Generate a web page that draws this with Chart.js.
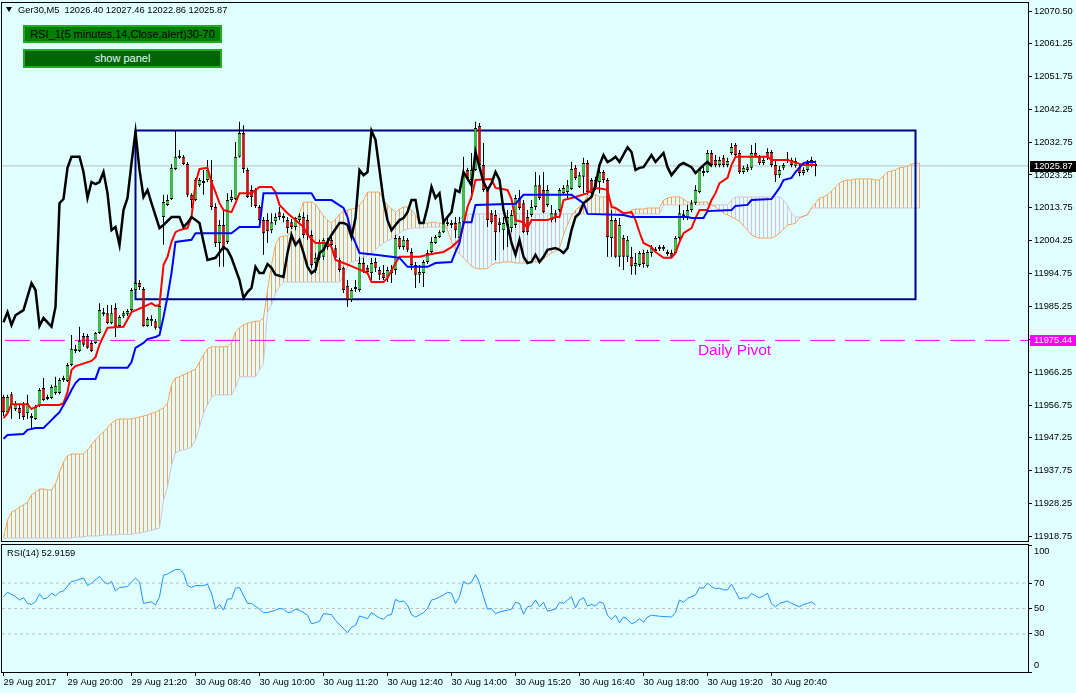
<!DOCTYPE html>
<html lang="en">
<head>
<meta charset="UTF-8">
<title>Ger30,M5</title>
<script src="https://cdn.jsdelivr.net/npm/chart.js"></script>
<style>
    body {
        margin: 0;
        width: 1076px;
        height: 693px;
        overflow: hidden;
        position: relative;
        background: #e0ffff;
        font-family: "Liberation Sans", Arial, sans-serif;
    }
    canvas { position: absolute; left: 0; }
    #main-chart { top: 0; }
    #rsi-chart { top: 543px; }
    .header {
        position: absolute; left: 6px; top: 4px;
        font-size: 9.3px; line-height: 13px; color: #000; white-space: pre;
    }
    .header .tri {
        display: inline-block; width: 0; height: 0;
        border-left: 3px solid transparent; border-right: 3px solid transparent;
        border-top: 5px solid #000; margin-right: 6px; vertical-align: 1px;
    }
    .btn {
        position: absolute; left: 23px; width: 195px;
        border: 2px solid #22a822; font-size: 11px; text-align: center;
    }
    #btn-rsi { top: 25px; height: 14px; line-height: 14px; background: #008000; color: #000; }
    #btn-panel { top: 49px; height: 15px; line-height: 15px; background: #006400; color: #e0ffff; }
</style>
</head>
<body>

<canvas id="main-chart" width="1076" height="543"></canvas>
<canvas id="rsi-chart" width="1076" height="150"></canvas>

<div class="header"><span class="tri"></span>Ger30,M5  12026.40 12027.46 12022.86 12025.87</div>
<div class="btn" id="btn-rsi">RSI_1(5 minutes,14,Close,alert)30-70</div>
<div class="btn" id="btn-panel">show panel</div>

<script>
    // ---- data (bar index 0 = 29 Aug 18:40, M5) ----
    const priceTicks = [12070.50, 12061.25, 12051.75, 12042.25, 12032.75, 12023.25, 12013.75, 12004.25,
        11994.75, 11985.25, 11975.75, 11966.25, 11956.75, 11947.25, 11937.75, 11928.25, 11918.75];
    const timeTickBars = [0, 16, 32, 48, 64, 80, 96, 112, 128, 144, 160, 176, 192];
    const timeTickLabels = ['29 Aug 2017', '29 Aug 20:00', '29 Aug 21:20', '30 Aug 08:40', '30 Aug 10:00',
        '30 Aug 11:20', '30 Aug 12:40', '30 Aug 14:00', '30 Aug 15:20', '30 Aug 16:40', '30 Aug 18:00',
        '30 Aug 19:20', '30 Aug 20:40'];

    const candleOpen = [
        11959.1,11954.7,11959.9,11955.6,11955.9,11957.0,11954.4,11953.0,11952.7,11956.5,
        11961.7,11958.5,11958.8,11960.2,11960.2,11964.0,11963.7,11968.3,11972.4,11972.4,
        11976.7,11976.7,11974.7,11974.7,11977.6,11983.6,11983.3,11980.4,11984.8,11979.6,
        11982.4,11983.0,11984.2,11990.0,11992.0,11990.3,11979.6,11981.0,11981.0,11979.1,
        12011.1,12014.6,12016.3,12025.0,12028.7,12028.5,12026.4,12017.5,12016.0,12020.3,
        12021.5,12021.8,12021.8,12014.0,12003.6,12008.8,12003.9,12016.0,12016.3,12028.5,
        12035.4,12024.7,12018.9,12018.9,12014.0,12010.2,12010.2,12007.3,12009.9,12012.5,
        12010.8,12010.2,12009.6,12008.2,12010.2,12011.1,12010.2,12005.9,11997.8,11999.3,
        11999.6,12003.9,12004.5,12002.1,11998.7,11996.4,11991.2,11987.1,11990.3,11990.0,
        11997.8,11996.4,11994.9,11998.1,11995.8,11994.9,11993.8,11995.8,11995.8,12005.0,
        12002.4,12004.5,12001.0,11997.2,11994.4,11994.9,11998.1,12001.0,12003.6,12005.3,
        12006.7,12009.1,12009.4,12009.4,12005.0,12009.6,12024.7,12021.8,12024.7,12037.4,
        12026.1,12018.9,12012.2,12011.7,12009.6,12007.3,12008.8,12007.9,12008.8,12016.6,
        12015.1,12011.1,12011.7,12014.0,12020.3,12018.9,12014.6,12010.2,12012.2,12013.1,
        12018.0,12018.3,12019.2,12025.3,12019.8,12022.7,12026.7,12021.8,12021.8,12021.2,
        12024.1,12021.8,12005.0,12010.2,11999.6,12005.0,11999.6,11999.6,11996.9,11997.2,
        12000.7,11996.9,12000.7,12001.3,12002.4,12001.8,12001.0,12000.7,12000.7,12005.0,
        12011.4,12010.8,12013.1,12015.1,12018.3,12023.8,12024.1,12029.6,12027.6,12026.1,
        12028.2,12026.1,12029.6,12031.9,12029.6,12024.1,12024.7,12025.3,12029.6,12028.5,
        12026.7,12029.9,12029.9,12026.1,12023.2,12025.3,12027.3,12027.6,12025.9,12025.5,
        12023.8,12024.7,12026.1,12026.40];
    const candleHigh = [
        11959.7,11959.7,11960.5,11957.9,11956.8,11957.6,11959.7,11954.4,11956.8,11961.7,
        11964.6,11959.7,11962.6,11964.9,11964.6,11965.2,11968.9,11977.0,11974.2,11979.4,
        11977.6,11977.3,11975.3,11977.9,11986.2,11984.8,11985.7,11985.7,11986.2,11982.7,
        11983.9,11984.5,11990.6,11992.9,11992.9,11990.9,11982.2,11982.7,11981.6,11985.7,
        12017.5,12017.5,12026.4,12036.2,12030.5,12029.0,12027.0,12018.0,12022.4,12022.4,
        12024.7,12027.6,12027.6,12015.1,12010.2,12013.1,12018.0,12018.9,12032.8,12038.6,
        12037.6,12025.3,12020.3,12019.5,12014.6,12011.1,12012.2,12012.2,12012.2,12014.0,
        12012.2,12011.1,12010.5,12011.1,12012.2,12012.5,12011.7,12007.3,12000.7,12004.5,
        12005.0,12005.0,12005.6,12003.0,11999.3,11996.7,11992.9,11990.6,11992.9,11999.6,
        11999.3,11997.2,11999.3,11999.3,11996.7,11997.2,11996.7,11997.2,12005.9,12005.6,
        12005.6,12005.0,12002.1,11998.1,11997.2,11998.7,12001.6,12005.3,12005.9,12007.3,
        12011.1,12010.8,12010.2,12011.1,12011.1,12028.5,12025.3,12029.6,12038.6,12038.3,
        12032.5,12019.8,12013.1,12013.1,12010.8,12011.1,12013.1,12013.1,12017.5,12018.9,
        12016.0,12013.1,12016.0,12024.1,12023.2,12024.1,12020.3,12014.6,12013.1,12019.5,
        12020.3,12021.8,12027.0,12026.1,12024.1,12028.2,12027.6,12022.4,12022.7,12026.1,
        12024.7,12022.4,12013.1,12010.8,12010.8,12005.9,12005.6,12002.4,12000.7,12001.3,
        12001.6,12001.6,12003.0,12002.4,12003.0,12003.0,12001.6,12001.6,12005.6,12014.6,
        12013.1,12014.6,12016.0,12020.3,12025.3,12025.9,12030.5,12030.5,12029.0,12028.5,
        12029.0,12028.2,12032.5,12032.5,12030.5,12025.9,12026.4,12031.9,12032.5,12029.0,
        12028.2,12031.0,12030.5,12027.6,12025.9,12026.7,12029.9,12028.2,12028.2,12026.7,
        12025.5,12027.6,12028.5,12027.46];
    const candleLow = [
        11953.6,11954.1,11952.7,11955.0,11952.7,11952.4,11952.7,11949.6,11952.4,11956.2,
        11957.9,11958.2,11958.5,11959.7,11959.9,11963.4,11963.4,11968.0,11971.8,11972.1,
        11973.6,11973.0,11972.1,11974.4,11977.3,11982.4,11980.1,11980.1,11976.4,11979.4,
        11981.9,11982.4,11983.9,11989.4,11990.0,11979.4,11979.4,11979.6,11978.5,11978.8,
        12003.1,12014.3,12016.0,12024.7,12027.9,12026.1,12016.9,12013.7,12015.7,12019.8,
        12017.5,12021.2,12013.1,12002.4,11996.7,11996.7,12003.3,12015.4,12016.0,12028.2,
        12023.8,12016.6,12014.0,12013.7,12009.6,12000.2,12003.6,12006.4,12008.8,12010.2,
        12009.6,12006.4,12007.6,12007.3,12009.6,12005.0,12004.5,11996.4,11994.9,11998.7,
        11998.7,12001.6,12002.1,11998.7,11995.2,11989.1,11985.1,11986.5,11989.4,11989.4,
        11994.9,11994.4,11992.9,11995.2,11992.9,11992.9,11992.3,11992.0,11994.4,12001.8,
        12001.6,12001.0,11995.8,11990.6,11992.0,11990.9,11997.5,12000.7,12003.3,12005.0,
        12006.4,12008.5,12007.9,12005.0,12004.8,12009.4,12021.8,12016.0,12024.4,12025.3,
        12018.3,12008.2,12009.1,11998.7,12006.7,12001.6,12002.4,12006.7,12007.9,12013.1,
        12006.5,12005.9,12011.1,12013.1,12016.0,12012.2,12014.0,12009.6,12009.6,12012.5,
        12017.5,12016.0,12018.9,12021.8,12019.5,12018.0,12017.5,12017.2,12018.9,12018.0,
        12020.9,11999.6,11999.6,11999.3,11996.7,11995.8,11998.1,11994.4,11994.4,11996.7,
        11996.4,11996.4,11999.6,12000.7,12001.3,12001.3,11999.9,11999.3,12000.4,12004.5,
        12010.2,12010.2,12012.5,12014.6,12018.0,12022.9,12023.8,12025.5,12025.5,12025.5,
        12025.5,12025.5,12029.0,12028.5,12023.5,12023.5,12024.1,12024.7,12028.2,12026.1,
        12026.1,12027.6,12025.5,12021.2,12022.4,12024.7,12026.7,12025.5,12025.3,12022.9,
        12023.2,12024.1,12025.5,12022.86];
    const candleClose = [
        11954.7,11959.1,11956.8,11957.0,11954.4,11953.3,11957.3,11953.6,11956.2,11961.1,
        11958.2,11959.1,11962.0,11962.3,11964.0,11964.6,11968.3,11973.0,11973.0,11975.3,
        11974.2,11973.3,11972.4,11977.6,11984.2,11983.0,11980.4,11983.3,11979.4,11982.2,
        11983.3,11983.9,11990.0,11992.0,11990.9,11979.6,11981.6,11981.6,11979.1,11985.4,
        12015.4,12016.0,12025.3,12028.5,12028.2,12026.4,12017.5,12016.0,12021.8,12021.8,
        12020.9,12024.7,12014.0,12003.6,12008.8,12002.4,12016.0,12016.9,12028.5,12035.4,
        12025.0,12016.9,12016.9,12014.3,12010.2,12006.4,12007.0,12009.6,12011.1,12011.1,
        12011.4,12007.9,12008.2,12010.8,12011.4,12005.9,12005.9,11997.2,11999.3,12003.6,
        12004.5,12002.4,12003.0,11999.3,11995.8,11990.0,11987.1,11990.0,11990.9,11997.8,
        11995.2,11995.2,11997.8,11996.4,11994.4,11993.5,11995.8,11994.9,12005.0,12002.4,
        12004.5,12001.6,11997.2,11994.4,11995.2,11998.1,12000.7,12003.9,12005.3,12006.7,
        12009.6,12009.6,12008.8,12007.3,12009.6,12023.8,12022.4,12024.7,12036.8,12026.1,
        12018.9,12010.2,12009.6,12006.7,12008.8,12009.4,12011.1,12011.7,12016.6,12013.7,
        12006.7,12006.7,12014.0,12020.3,12016.6,12012.5,12018.9,12012.2,12010.8,12018.9,
        12019.5,12020.3,12025.0,12022.4,12023.2,12026.7,12018.3,12018.0,12019.8,12024.1,
        12021.8,12005.3,12010.2,11999.6,12008.8,11999.6,12004.5,11996.9,11997.8,12000.7,
        11997.5,12001.0,12002.1,12001.8,12001.8,12002.4,12000.4,11999.6,12005.0,12012.2,
        12011.9,12013.1,12015.1,12018.9,12024.7,12024.4,12029.6,12026.1,12026.1,12027.6,
        12026.1,12027.3,12031.3,12029.0,12024.1,12025.3,12025.5,12029.6,12028.5,12026.7,
        12027.6,12028.2,12026.1,12023.2,12024.7,12026.1,12027.9,12026.1,12027.3,12023.8,
        12024.7,12026.7,12027.6,12025.87];

    // Ichimoku lines as [bar, price] vertices
    const tenkanLine = [[0,11953.0],[1,11954.4],[2,11957.0],[6,11957.0],[7,11955.6],[8,11956.2],[9,11956.8],
        [14,11956.8],[15,11957.3],[16,11960.5],[17,11966.9],[18,11968.0],[22,11969.5],[23,11970.6],[24,11974.2],
        [26,11979.1],[30,11979.4],[32,11983.6],[35,11985.1],[37,11986.2],[38,11985.4],[39,11985.7],[40,11997.2],
        [41,11999.6],[42,12003.9],[43,12006.7],[44,12007.3],[46,12007.9],[47,12011.1],[48,12020.9],[49,12025.0],
        [51,12025.3],[52,12021.2],[53,12018.3],[54,12015.1],[55,12013.1],[57,12012.5],[58,12015.1],[59,12018.0],
        [62,12018.0],[64,12019.8],[67,12019.8],[68,12018.3],[69,12014.6],[71,12012.2],[73,12010.2],[75,12008.2],
        [76,12005.9],[78,12003.6],[81,12003.6],[82,12002.4],[83,11998.7],[85,11997.8],[87,11996.9],[91,11994.9],
        [92,11992.3],[95,11992.3],[96,11993.5],[98,11997.8],[99,11999.6],[104,11999.6],[107,12000.4],[110,12001.0],
        [112,12002.4],[114,12004.5],[115,12008.8],[116,12014.0],[117,12016.9],[118,12021.8],[122,12022.1],
        [123,12019.5],[126,12018.9],[127,12016.3],[128,12010.2],[130,12009.6],[131,12007.9],[132,12010.2],
        [136,12010.2],[138,12011.1],[139,12011.1],[140,12016.0],[143,12016.9],[146,12018.0],[147,12018.9],
        [148,12019.5],[150,12019.2],[151,12018.9],[152,12014.0],[153,12013.7],[155,12012.2],[157,12012.5],
        [158,12010.2],[159,12006.7],[160,12003.6],[162,12002.4],[163,12001.0],[165,11999.3],[167,11999.3],
        [168,12000.7],[169,12003.9],[170,12006.4],[172,12007.9],[173,12010.8],[174,12013.1],[176,12013.1],
        [177,12016.0],[178,12018.0],[179,12020.9],[181,12022.4],[182,12026.1],[183,12028.5],[191,12028.5],
        [192,12027.6],[196,12027.6],[200,12026.1],[203,12026.1]];
    const kijunLine = [[0,11947.0],[1,11948.1],[5,11948.4],[6,11949.6],[8,11950.1],[10,11950.1],[12,11952.4],
        [13,11953.6],[14,11954.7],[16,11958.8],[17,11961.1],[18,11963.1],[19,11964.3],[23,11964.3],[24,11967.5],
        [31,11967.5],[32,11969.2],[33,11973.3],[35,11974.7],[36,11975.8],[38,11976.4],[39,11977.0],[40,11982.2],
        [41,11988.0],[42,11994.9],[43,12003.9],[47,12004.5],[48,12006.4],[57,12006.4],[59,12008.2],[64,12008.2],
        [65,12018.0],[77,12018.0],[78,12016.0],[82,12016.0],[85,12013.7],[86,12011.1],[87,12006.4],[89,12000.7],
        [93,12000.2],[97,11999.6],[99,11999.3],[101,11996.7],[106,11996.7],[108,11997.8],[112,11998.1],
        [113,12001.0],[114,12003.6],[115,12009.6],[117,12009.6],[118,12014.6],[128,12014.9],[130,12017.5],
        [142,12017.5],[145,12015.1],[146,12012.0],[155,12011.7],[157,12011.1],[171,12011.1],[172,12010.8],
        [175,12010.8],[176,12012.8],[182,12013.1],[183,12014.3],[186,12014.6],[187,12016.0],[192,12016.3],
        [194,12019.5],[195,12021.8],[197,12022.4],[198,12024.1],[200,12026.7],[201,12027.0],[203,12027.0]];
    const chikouLine = [[0,11980.7],[1,11983.6],[2,11979.9],[3,11982.7],[5,11984.2],[7,11992.0],[8,11990.0],
        [9,11979.6],[10,11981.9],[12,11979.4],[13,11985.1],[14,12015.1],[15,12016.3],[16,12025.3],[17,12028.5],
        [19,12028.5],[20,12024.1],[21,12016.6],[22,12021.2],[23,12020.6],[24,12021.2],[25,12024.1],[26,12018.0],
        [27,12007.3],[28,12008.2],[29,12003.0],[30,12013.1],[31,12016.6],[32,12026.7],[33,12035.7],[34,12024.7],
        [35,12016.9],[36,12018.9],[37,12015.1],[39,12007.9],[40,12008.8],[42,12011.1],[44,12011.1],[45,12008.2],
        [46,12009.4],[47,12011.1],[49,12009.4],[50,12003.9],[51,11998.7],[53,11999.3],[55,12002.4],[56,12001.6],
        [57,11999.3],[59,11992.9],[60,11987.7],[61,11989.4],[62,11990.6],[63,11996.7],[64,11994.9],[65,11994.9],
        [66,11997.5],[67,11996.4],[68,11994.4],[70,11993.8],[71,12000.7],[72,12005.9],[73,12003.0],[74,12004.5],
        [75,12000.7],[76,11996.7],[77,11994.9],[78,11995.8],[79,12000.7],[80,12001.6],[81,12003.9],[82,12005.9],
        [84,12009.4],[85,12009.4],[86,12008.8],[87,12005.3],[88,12010.8],[89,12024.7],[90,12023.2],[91,12024.1],
        [92,12036.0],[93,12033.4],[94,12024.7],[95,12016.0],[96,12010.2],[97,12007.3],[98,12008.8],[99,12010.2],
        [100,12010.8],[101,12012.5],[102,12016.0],[103,12016.0],[104,12009.4],[105,12009.4],[106,12014.0],
        [107,12019.8],[108,12016.6],[109,12018.0],[110,12009.6],[111,12011.1],[112,12012.5],[113,12018.9],
        [114,12018.3],[115,12024.1],[117,12020.3],[118,12029.9],[119,12025.5],[120,12021.2],[121,12018.9],
        [122,12020.9],[123,12024.1],[124,12021.8],[125,12013.1],[126,12008.8],[127,12003.6],[128,12000.2],
        [129,12004.5],[130,11999.6],[131,11997.8],[132,11998.1],[133,12000.2],[134,11998.1],[135,11999.6],
        [136,12001.6],[138,12002.1],[139,12001.6],[140,12000.7],[141,12002.1],[142,12007.3],[143,12011.1],
        [144,12012.2],[145,12015.1],[147,12016.9],[148,12020.3],[149,12026.1],[150,12029.0],[151,12027.0],
        [152,12027.6],[153,12028.5],[154,12027.0],[156,12031.3],[157,12029.9],[158,12024.7],[159,12025.3],
        [160,12025.5],[162,12029.0],[163,12027.0],[165,12029.6],[166,12025.5],[167,12023.2],[169,12026.1],
        [170,12026.7],[172,12025.5],[173,12023.8],[175,12026.1],[176,12027.0],[177,12025.9]];

    // Senkou spans, one value per bar 0..229 (cloud runs 26 bars past the last candle)
    const spanA = [
        11918.3,11923.5,11925.8,11926.4,11927.3,11927.9,11928.7,11930.8,11931.6,11932.5,
        11932.5,11932.2,11932.2,11933.9,11937.4,11940.3,11942.1,11942.6,11942.6,11942.6,
        11942.6,11943.8,11945.3,11946.7,11947.9,11949.0,11950.1,11951.5,11952.4,11952.7,
        11952.7,11952.7,11952.7,11953.0,11953.3,11953.6,11953.9,11954.4,11954.7,11955.3,
        11955.9,11957.3,11962.6,11964.6,11964.9,11965.5,11966.0,11966.6,11967.2,11969.2,
        11971.3,11973.0,11973.6,11973.6,11973.6,11973.6,11973.6,11974.7,11977.9,11979.1,
        11979.9,11980.4,11980.7,11981.0,11981.0,11981.9,11990.0,11997.2,12003.1,12005.3,
        12005.6,12005.6,12007.3,12009.6,12012.2,12015.4,12015.4,12015.4,12014.8,12013.1,
        12011.4,12010.2,12009.3,12010.5,12011.9,12012.8,12013.1,12013.4,12013.7,12014.6,
        12016.0,12018.3,12018.3,12018.3,12018.3,12016.0,12014.6,12013.4,12012.5,12013.4,
        12014.0,12014.0,12013.1,12011.7,12009.3,12009.3,12009.3,12009.6,12009.6,12009.3,
        12009.3,12007.3,12003.9,12001.6,12000.4,11999.3,11998.1,11996.9,11996.3,11996.1,
        11996.1,11996.3,11997.2,11997.8,11997.8,11998.1,11998.1,11998.1,11997.8,11997.8,
        11997.8,11997.8,11998.1,11998.1,11998.1,11998.9,11999.9,12000.7,12001.3,12002.1,
        12005.9,12008.8,12011.4,12013.1,12014.0,12015.1,12017.2,12017.5,12017.5,12016.9,
        12016.9,12016.9,12015.1,12013.7,12012.5,12011.9,12012.2,12013.1,12013.4,12013.4,
        12013.4,12013.7,12013.7,12013.7,12013.7,12016.0,12016.6,12016.9,12016.9,12016.9,
        12016.3,12015.4,12015.4,12015.4,12015.4,12015.4,12015.4,12014.6,12014.0,12013.1,
        12012.2,12011.7,12011.1,12010.5,12009.9,12008.5,12007.3,12005.9,12005.3,12005.0,
        12005.0,12005.0,12005.0,12005.6,12006.4,12007.6,12008.8,12009.0,12009.3,12010.8,
        12011.4,12011.7,12013.7,12015.1,12016.6,12016.9,12017.5,12018.6,12019.8,12020.9,
        12021.5,12021.8,12021.8,12022.1,12022.1,12022.1,12022.1,12022.1,12021.8,12021.8,
        12023.0,12024.1,12024.4,12024.7,12025.3,12025.5,12025.8,12026.4,12026.7,12026.7];
    const spanB = [
        11918.3,11918.3,11918.3,11918.3,11918.3,11918.3,11918.3,11918.3,11918.3,11918.3,
        11918.3,11918.3,11918.3,11918.3,11918.3,11918.3,11918.3,11918.3,11918.6,11918.6,
        11918.6,11918.9,11918.9,11918.9,11918.9,11919.2,11919.2,11919.2,11919.2,11919.4,
        11919.4,11919.4,11919.4,11919.7,11919.7,11920.0,11920.3,11920.6,11920.9,11921.2,
        11929.3,11933.0,11939.4,11942.9,11943.5,11943.8,11944.1,11944.6,11946.7,11950.4,
        11954.4,11956.8,11959.1,11959.7,11959.7,11959.7,11959.7,11959.7,11961.7,11964.9,
        11964.9,11964.9,11964.9,11964.9,11966.9,11968.9,11983.6,11985.7,11989.1,11990.9,
        11992.3,11992.3,11992.3,11992.3,11992.3,11992.3,11992.3,11992.3,11992.3,11992.3,
        11992.3,11992.3,11992.3,11992.3,11992.3,11993.8,11996.7,11998.1,11998.4,11998.7,
        11999.3,11999.9,12000.7,12001.6,12002.7,12003.6,12004.2,12004.8,12005.6,12006.4,
        12007.3,12007.6,12007.9,12007.9,12007.9,12007.9,12008.2,12008.2,12008.2,12008.2,
        12008.2,12008.5,12009.1,12009.6,12010.5,12011.1,12011.7,12012.0,12012.0,12012.0,
        12012.0,12012.0,12012.0,12012.0,12012.0,12012.0,12012.0,12012.0,12012.0,12012.0,
        12012.0,12012.0,12012.0,12012.0,12012.0,12012.0,12012.0,12012.0,12012.0,12012.0,
        12012.0,12012.0,12012.0,12012.0,12012.0,12012.0,12012.0,12012.0,12012.0,12012.0,
        12012.0,12012.0,12012.0,12012.0,12012.0,12012.0,12012.0,12012.0,12012.0,12012.0,
        12012.0,12012.0,12012.0,12012.0,12012.0,12014.6,12014.6,12014.6,12014.6,12014.6,
        12014.6,12014.6,12014.6,12014.6,12014.6,12014.6,12014.6,12014.6,12014.6,12014.6,
        12014.6,12014.6,12016.0,12016.9,12016.9,12016.9,12016.9,12016.9,12016.9,12016.9,
        12016.9,12016.9,12016.9,12016.9,12016.9,12016.0,12014.6,12012.2,12011.1,12011.1,
        12011.1,12012.0,12013.7,12013.7,12013.7,12013.7,12013.7,12013.7,12013.7,12013.7,
        12013.7,12013.7,12013.7,12013.7,12013.7,12013.7,12013.7,12013.7,12013.7,12013.7,
        12013.7,12013.7,12013.7,12013.7,12013.7,12013.7,12013.7,12013.7,12013.7,12013.7];

    const rsiLine = [[0,59.3],[1,62.8],[3,59.3],[4,56.7],[5,58.5],[6,54],[7,53.2],[8,55.3],[9,61.5],[10,57.5],
        [11,58.5],[12,62],[13,60],[14,62.8],[15,63.9],[17,71.3],[18,71.9],[20,74],[21,68.1],[22,70],[24,75.3],
        [25,71.3],[26,69.2],[27,71.3],[28,63.9],[29,66.5],[31,67.3],[33,74],[34,70.8],[35,54],[37,55.3],[38,52.7],
        [39,59.3],[40,76.1],[41,77.2],[43,80.7],[44,80.7],[45,78],[46,68.1],[47,66.5],[48,68.1],[50,67.9],[51,69.2],
        [52,62],[53,49.5],[54,53.2],[55,48.7],[56,57.5],[57,57.5],[58,66],[59,66.5],[61,54],[62,54],[64,49.5],
        [65,46.8],[66,46.8],[68,48.7],[69,50],[70,49.5],[71,46.8],[72,47.3],[73,49.5],[74,48.7],[76,44.7],[77,38],
        [78,38.8],[79,39.9],[80,46],[82,45.2],[83,40.7],[86,30.8],[87,35.3],[88,36.7],[89,44.1],[91,42],[92,46.8],
        [94,42.5],[95,41.5],[96,44.7],[97,45.2],[98,57.2],[99,55.3],[100,55.9],[101,52.7],[102,45.2],[103,43.3],
        [105,46.8],[106,50],[107,56.7],[108,57.5],[110,60.7],[111,62.8],[112,62],[113,54],[114,59.3],[115,71.3],
        [116,69.2],[117,70.8],[118,76.7],[119,70],[120,59.3],[121,49.5],[122,50],[123,46],[124,47.3],[126,48.7],
        [127,49.5],[128,54.8],[129,54],[130,45.5],[131,51.3],[132,52.1],[133,56.7],[134,51.6],[135,54.8],
        [136,47.9],[138,49.5],[139,54.8],[140,54],[141,56.7],[142,59.3],[143,50.5],[144,56.7],[145,58.5],
        [146,52.1],[147,53.2],[148,51.9],[149,55.3],[150,54],[151,44.7],[152,41.5],[153,44.7],[154,38.8],
        [155,43.3],[156,41.5],[157,38],[158,39.3],[159,42],[160,39.3],[161,43.3],[162,44.7],[164,43.9],[167,43.3],
        [168,46.8],[169,56.7],[170,54.8],[171,58],[173,60.7],[174,66.5],[175,66],[176,70],[177,67.3],[178,65.5],
        [179,66],[180,64.7],[181,64.7],[182,69.2],[183,63.3],[184,57.5],[185,58.5],[186,58],[187,62],[188,60],
        [189,58.5],[190,60],[191,62],[192,54],[193,51.3],[194,54],[196,55.9],[197,54],[199,51.3],[200,53.2],
        [201,54],[202,55.3],[203,52.9]];
    const rsiLevels = [30, 50, 70];
    const rsiTicks = [0, 30, 50, 70, 100];
    const rsiTitle = 'RSI(14) 52.9159';

    const lastPrice = 12025.87;
    const pivotPrice = 11975.44;
    const pivotLabel = 'Daily Pivot';
    const pivotLabelBar = 173.6;
    const boxBars = [33, 228];
    const boxPrices = [12036.1, 11987.3];

    // ---- view range: 4 px per bar, same x range on both panels ----
    const xMin = -0.375, xMax = 256.125;
    const yMin = 11917.46, yMax = 12072.95;

    const BULL = '#32cd32', BEAR = '#f00000';
    const SPAN_A = '#f4a460', SPAN_B = '#d8bfd8';
    const FONT = '"Liberation Sans", Arial, sans-serif';

    Chart.defaults.font.family = FONT;
    Chart.defaults.font.size = 9.3;
    Chart.defaults.color = '#000';

    const xy = pts => pts.map(p => ({x: p[0], y: p[1]}));
    const bars = candleOpen.map((_, i) => i);

    const framePlugin = {
        id: 'frame',
        afterDraw(chart) {
            const {ctx, chartArea: a} = chart;
            ctx.save();
            ctx.strokeStyle = '#000';
            ctx.lineWidth = 1;
            ctx.strokeRect(a.left - 0.5, a.top - 0.5, a.right - a.left + 1, a.bottom - a.top + 1);
            ctx.restore();
        }
    };

    const markerPlugin = {
        id: 'markers',
        afterDraw(chart) {
            const {ctx, chartArea: a} = chart;
            const x = chart.scales.x, y = chart.scales.y;
            ctx.save();
            ctx.font = '9.3px ' + FONT;
            ctx.textBaseline = 'middle';
            [[lastPrice, '#000000'], [pivotPrice, '#ff00ff']].forEach(([v, bg]) => {
                const py = Math.round(y.getPixelForValue(v));
                ctx.fillStyle = bg;
                ctx.fillRect(a.right + 2, py - 5, chart.width - a.right - 2, 11);
                ctx.fillStyle = '#ffffff';
                ctx.fillText(v.toFixed(2), a.right + 6, py + 0.5);
            });
            ctx.fillStyle = '#ff00ff';
            ctx.font = '15.5px ' + FONT;
            ctx.textBaseline = 'alphabetic';
            ctx.fillText(pivotLabel, x.getPixelForValue(pivotLabelBar), y.getPixelForValue(pivotPrice) + 15);
            ctx.restore();
        }
    };

    const rsiTextPlugin = {
        id: 'rsiText',
        afterDraw(chart) {
            const {ctx, chartArea: a} = chart;
            const y = chart.scales.y;
            ctx.save();
            ctx.font = '9.3px ' + FONT;
            ctx.fillStyle = '#000';
            ctx.textBaseline = 'middle';
            rsiTicks.forEach(v => {
                const py = Math.min(Math.max(y.getPixelForValue(v), a.top + 6), a.bottom - 7);
                ctx.fillText(String(v), a.right + 6, py);
            });
            ctx.fillText(rsiTitle, a.left + 5, a.top + 8.5);
            ctx.restore();
        }
    };

    const lineSet = (label, data, color, width, order, extra) => Object.assign({
        type: 'line', label: label, data: data, borderColor: color, borderWidth: width,
        pointRadius: 0, pointHoverRadius: 0, tension: 0, fill: false, order: order
    }, extra || {});

    new Chart(document.getElementById('main-chart'), {
        type: 'bar',
        data: {
            datasets: [
                lineSet('Chikou', xy(chikouLine), '#000000', 2.5, 1),
                lineSet('Kijun', xy(kijunLine), '#0000ff', 2, 2),
                lineSet('Tenkan', xy(tenkanLine), '#ff0000', 2, 3),
                {
                    label: 'Body',
                    data: bars.map(i => ({x: i, y: [candleOpen[i], candleClose[i]]})),
                    backgroundColor: bars.map(i => candleClose[i] >= candleOpen[i] ? BULL : BEAR),
                    borderColor: '#000', borderWidth: {top: 1, bottom: 1, left: 0.5, right: 0.5},
                    borderSkipped: false,
                    barThickness: 3, maxBarThickness: 3, grouped: false, inflateAmount: 0, order: 4
                },
                {
                    label: 'Wick',
                    data: bars.map(i => ({x: i, y: [candleLow[i], candleHigh[i]]})),
                    backgroundColor: '#000', borderWidth: 0,
                    barThickness: 1, maxBarThickness: 1, grouped: false, inflateAmount: 0, order: 5
                },
                lineSet('Box', [
                    {x: boxBars[0], y: boxPrices[0]}, {x: boxBars[1], y: boxPrices[0]},
                    {x: boxBars[1], y: boxPrices[1]}, {x: boxBars[0], y: boxPrices[1]},
                    {x: boxBars[0], y: boxPrices[0]}
                ], '#000080', 2, 6),
                lineSet('Daily Pivot', [{x: xMin, y: pivotPrice}, {x: xMax, y: pivotPrice}], '#ff00ff', 1, 7,
                    {borderDash: [25, 10], borderDashOffset: 32}),
                lineSet('Bid', [{x: xMin, y: lastPrice}, {x: xMax, y: lastPrice}], '#c0c0c0', 1, 8),
                lineSet('Senkou A', spanA.map((v, i) => ({x: i, y: v})), SPAN_A, 1, 9),
                lineSet('Senkou B', spanB.map((v, i) => ({x: i, y: v})), SPAN_B, 1, 10),
                {
                    label: 'Cloud',
                    data: spanA.map((v, i) => ({x: i, y: [Math.min(v, spanB[i]), Math.max(v, spanB[i])]})),
                    backgroundColor: spanA.map((v, i) => v >= spanB[i] ? SPAN_A : SPAN_B),
                    borderWidth: 0, barThickness: 1, maxBarThickness: 1, grouped: false, inflateAmount: 0, order: 11
                }
            ]
        },
        options: {
            responsive: false,
            animation: false,
            devicePixelRatio: 1,
            events: [],
            layout: {padding: {left: 2, top: 3, right: 0, bottom: 2}},
            plugins: {legend: {display: false}, tooltip: {enabled: false}},
            scales: {
                x: {type: 'linear', min: xMin, max: xMax, bounds: 'data', offset: false, display: false},
                y: {
                    type: 'linear', position: 'right', min: yMin, max: yMax, bounds: 'data', beginAtZero: false,
                    grid: {drawOnChartArea: false, drawTicks: true, tickLength: 4, color: '#000', tickColor: '#000'},
                    border: {display: true, color: '#000'},
                    ticks: {padding: 2, autoSkip: false, color: '#000', callback: v => Number(v).toFixed(2)},
                    afterBuildTicks: s => { s.ticks = priceTicks.map(v => ({value: v})); },
                    afterFit: s => { s.width = 48; s.paddingTop = 0; s.paddingBottom = 0; }
                }
            }
        },
        plugins: [framePlugin, markerPlugin]
    });

    new Chart(document.getElementById('rsi-chart'), {
        type: 'line',
        data: {
            datasets: [lineSet(rsiTitle, xy(rsiLine), '#1e90ff', 1, 1)].concat(
                rsiLevels.map(v => lineSet('level ' + v, [{x: xMin, y: v}, {x: xMax, y: v}], '#c0c0c0', 1, 2,
                    {borderDash: [3, 3]})))
        },
        options: {
            responsive: false,
            animation: false,
            devicePixelRatio: 1,
            events: [],
            layout: {padding: {left: 2, top: 2, right: 0, bottom: 0}},
            plugins: {legend: {display: false}, tooltip: {enabled: false}},
            scales: {
                x: {
                    type: 'linear', min: xMin, max: xMax, bounds: 'data', offset: false,
                    grid: {drawOnChartArea: false, drawTicks: true, tickLength: 4, color: '#000', tickColor: '#000'},
                    border: {display: false},
                    ticks: {
                        autoSkip: false, maxRotation: 0, minRotation: 0, align: 'start', padding: 1, color: '#000',
                        callback: v => { const k = timeTickBars.indexOf(v); return k < 0 ? '' : timeTickLabels[k]; }
                    },
                    afterBuildTicks: s => { s.ticks = timeTickBars.map(v => ({value: v})); },
                    afterFit: s => { s.height = 21; s.paddingLeft = 0; s.paddingRight = 0; }
                },
                y: {
                    type: 'linear', position: 'right', min: 0, max: 100, bounds: 'data',
                    grid: {drawOnChartArea: false, drawTicks: true, tickLength: 4, color: '#000', tickColor: '#000'},
                    border: {display: true, color: '#000'},
                    ticks: {display: false},
                    afterBuildTicks: s => { s.ticks = rsiTicks.map(v => ({value: v})); },
                    afterFit: s => { s.width = 48; s.paddingTop = 0; s.paddingBottom = 0; }
                }
            }
        },
        plugins: [framePlugin, rsiTextPlugin]
    });
</script>
</body>
</html>
